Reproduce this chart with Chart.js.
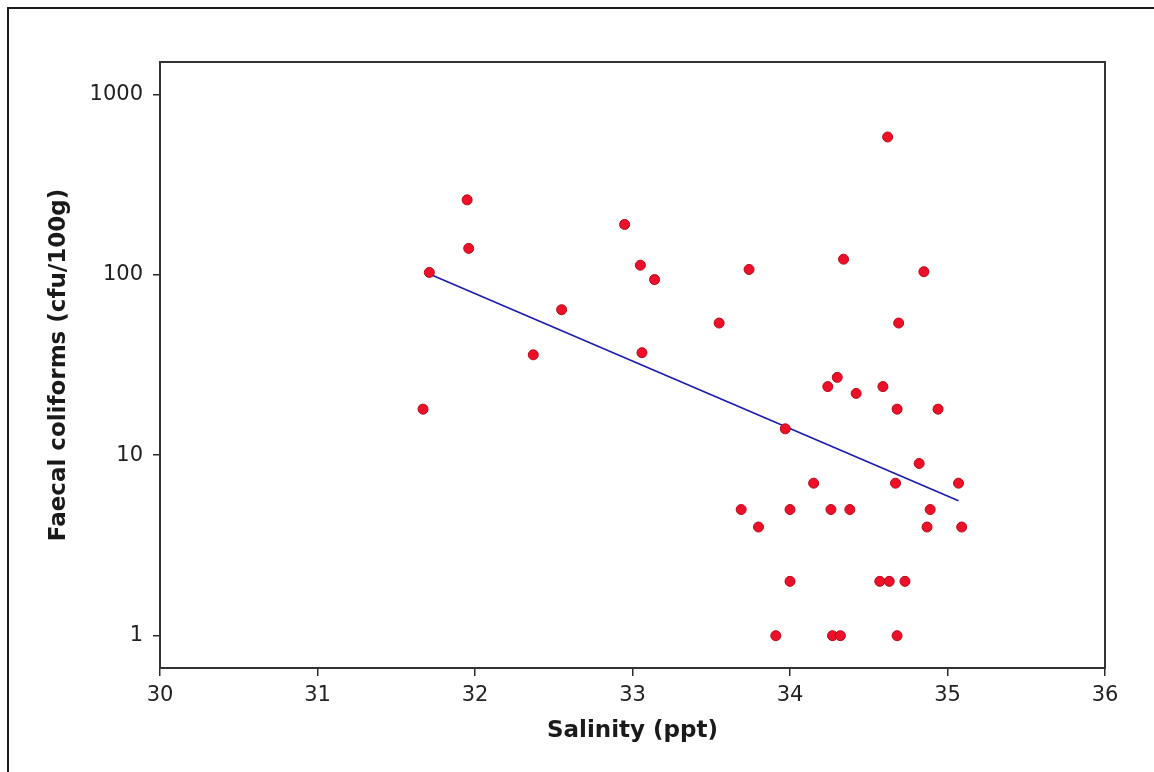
<!DOCTYPE html>
<html>
<head>
<meta charset="utf-8">
<script src="https://cdn.jsdelivr.net/npm/chart.js@4/dist/chart.umd.min.js"></script>
<style>
  html, body { margin: 0; padding: 0; background: #ffffff; }
  #wrap { position: relative; width: 1154px; height: 772px; }
  canvas { display: block; }
</style>
</head>
<body>
<div id="wrap"><canvas id="chart" width="1154" height="772"></canvas></div>
<script>
// Salinity (ppt) of each sample
const salinity = [
  31.95, 31.96, 31.71, 31.67, 32.37, 32.55, 32.95, 33.05, 33.14, 33.06,
  33.55, 33.74, 34.34, 34.62, 34.85, 34.69, 34.30, 34.24, 34.42, 34.59,
  34.68, 34.94, 33.97, 34.82, 34.15, 34.67, 35.07, 33.69, 34.00, 34.26,
  34.38, 34.89, 33.80, 34.87, 35.09, 34.00, 34.57, 34.63, 34.73, 33.91,
  34.27, 34.32, 34.68
];
// Faecal coliforms (cfu/100g) of the same samples
const coliforms = [
  260, 140, 103, 18, 36, 64, 190, 113, 94, 37,
  54, 107, 122, 580, 104, 54, 27, 24, 22, 24,
  18, 18, 14, 9, 7, 7, 7, 5, 5, 5,
  5, 5, 4, 4, 4, 2, 2, 2, 2, 1,
  1, 1, 1
];
// Fitted regression line (log scale) end points
const fitSalinity = [31.71, 35.07];
const fitColiforms = [101, 5.6];

// Axis ticks
const xTicks = [30, 31, 32, 33, 34, 35, 36];
const yTicks = [1, 10, 100, 1000];

const samplePoints = salinity.map((s, i) => ({ x: s, y: coliforms[i] }));
const fitPoints = fitSalinity.map((s, i) => ({ x: s, y: fitColiforms[i] }));

const AXIS_COLOR = '#2a2a2a';

// Box around the plot area and the outer frame lines
const framePlugin = {
  id: 'frame',
  beforeDatasetsDraw(chart) {
    const { ctx, chartArea: a } = chart;
    ctx.save();
    ctx.strokeStyle = '#333333';
    ctx.lineWidth = 2;
    ctx.strokeRect(a.left, a.top, a.right - a.left, a.bottom - a.top);
    ctx.restore();
  },
  afterDraw(chart) {
    const { ctx, width } = chart;
    ctx.save();
    ctx.strokeStyle = '#1a1a1a';
    ctx.lineWidth = 2;
    ctx.beginPath();
    ctx.moveTo(8, chart.height);
    ctx.lineTo(8, 8);
    ctx.lineTo(width, 8);
    ctx.stroke();
    ctx.restore();
  }
};

new Chart(document.getElementById('chart'), {
  type: 'scatter',
  data: {
    datasets: [
      {
        type: 'scatter',
        data: samplePoints,
        pointRadius: 5,
        pointHoverRadius: 5,
        pointStyle: 'circle',
        backgroundColor: '#ee1028',
        borderColor: '#b80818',
        borderWidth: 1,
        order: 0
      },
      {
        type: 'line',
        data: fitPoints,
        showLine: true,
        pointRadius: 0,
        borderColor: '#1c1cb0',
        borderWidth: 1.6,
        fill: false,
        tension: 0,
        order: 1
      }
    ]
  },
  options: {
    responsive: false,
    animation: false,
    devicePixelRatio: 1,
    layout: { padding: { left: 0, top: 62, right: 49, bottom: 0 } },
    plugins: {
      legend: { display: false },
      tooltip: { enabled: false }
    },
    scales: {
      x: {
        type: 'linear',
        position: 'bottom',
        min: 30,
        max: 36,
        afterBuildTicks: (scale) => { scale.ticks = xTicks.map(v => ({ value: v })); },
        afterFit: (scale) => { scale.height = 104; },
        grid: {
          drawOnChartArea: false,
          drawTicks: true,
          tickLength: 8,
          color: AXIS_COLOR,
          lineWidth: 1.5
        },
        border: { display: false },
        ticks: {
          padding: 7,
          color: '#222222',
          font: { family: 'DejaVu Sans', size: 21 },
          callback: (v) => String(v)
        },
        title: {
          display: true,
          text: 'Salinity (ppt)',
          color: '#1a1a1a',
          font: { family: 'DejaVu Sans', size: 23, weight: 'bold' },
          padding: { top: 0, bottom: 27 }
        }
      },
      y: {
        type: 'logarithmic',
        position: 'left',
        min: 0.662,
        max: 1510,
        afterBuildTicks: (scale) => { scale.ticks = yTicks.map(v => ({ value: v })); },
        afterFit: (scale) => { scale.width = 160; },
        grid: {
          drawOnChartArea: false,
          drawTicks: true,
          tickLength: 7,
          color: AXIS_COLOR,
          lineWidth: 1.5
        },
        border: { display: false },
        ticks: {
          padding: 10,
          color: '#222222',
          font: { family: 'DejaVu Sans', size: 21 },
          callback: (v) => String(v)
        },
        title: {
          display: true,
          text: 'Faecal coliforms (cfu/100g)',
          color: '#1a1a1a',
          font: { family: 'DejaVu Sans', size: 23, weight: 'bold' },
          padding: { top: 45, bottom: 0 }
        }
      }
    }
  },
  plugins: [framePlugin]
});
</script>
</body>
</html>
